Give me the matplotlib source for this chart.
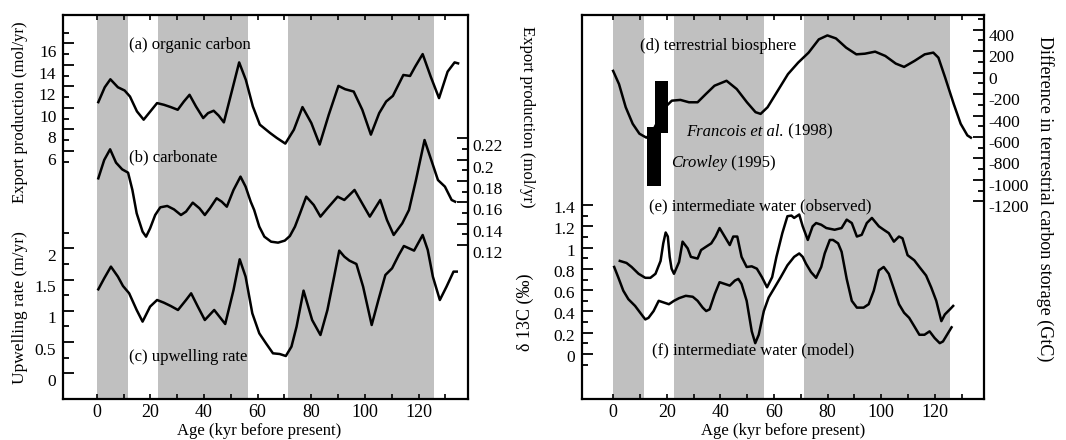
import matplotlib
matplotlib.use("Agg")
import matplotlib.pyplot as plt
from matplotlib.transforms import ScaledTranslation

plt.rcParams["font.family"] = ["Liberation Serif", "DejaVu Serif"]

# ---------------- data ----------------
# shaded intervals (kyr BP)
bands = [(0, 11.6), (22.7, 56.4), (71.2, 125.8)]

# (a) organic carbon export (mol/yr)
org_age = [0.6, 3.0, 5.1, 7.9, 10.4, 12.4, 15.0, 17.5, 20.0, 22.5, 25.1, 27.6, 30.2,
           32.5, 34.6, 37.0, 39.7, 41.5, 43.6, 45.5, 47.4, 50.5, 53.1, 55.6, 58.2,
           60.8, 64.6, 67.1, 70.3, 73.5, 76.7, 80.0, 83.1, 86.5, 90.1, 92.6, 95.8,
           99.0, 102.2, 105.3, 107.9, 110.4, 114.3, 116.8, 118.7, 121.5, 124.5,
           127.6, 130.8, 133.4, 134.7]
org_val = [10.54, 11.92, 12.66, 11.92, 11.62, 11.06, 9.68, 8.91, 9.68, 10.45, 10.29,
           10.08, 9.83, 10.60, 11.22, 10.14, 9.06, 9.52, 9.74, 9.28, 8.66, 11.68, 14.23,
           12.60, 10.14, 8.45, 7.68, 7.22, 6.69, 7.98, 10.08, 8.60, 6.60, 9.37, 12.05,
           11.74, 11.52, 9.83, 7.52, 9.52, 10.60, 11.12, 13.06, 12.97, 13.83, 15.00,
           12.91, 10.91, 13.37, 14.23, 14.14]

# (b) carbonate export (mol/yr)
carb_age = [0.6, 2.8, 5.0, 7.2, 9.5, 11.7, 13.3, 14.9, 16.1, 17.1, 18.4, 19.9, 21.8,
            23.7, 26.3, 28.8, 31.4, 33.3, 35.8, 38.3, 40.3, 42.2, 44.7, 46.6, 48.5,
            51.0, 53.6, 55.5, 57.4, 58.7, 60.6, 62.5, 65.0, 67.6, 70.1, 72.0, 73.9,
            75.8, 78.1, 80.9, 83.4, 86.0, 89.8, 92.3, 96.1, 99.3, 101.8, 105.7, 108.2,
            110.7, 113.9, 116.4, 119.0, 122.2, 124.7, 127.2, 129.8, 132.3, 133.6]
carb_val = [0.1825, 0.1997, 0.2097, 0.1972, 0.1909, 0.1878, 0.1716, 0.1497, 0.1403,
            0.1325, 0.1278, 0.1356, 0.1481, 0.1553, 0.1566, 0.1534, 0.1481, 0.1513,
            0.1597, 0.1544, 0.1481, 0.1544, 0.1638, 0.1606, 0.1559, 0.1716, 0.1841,
            0.1747, 0.1606, 0.1528, 0.1372, 0.1278, 0.1231, 0.1222, 0.1241, 0.1284,
            0.1372, 0.1497, 0.1653, 0.1575, 0.1466, 0.1544, 0.1653, 0.1622, 0.1716,
            0.1575, 0.1466, 0.1622, 0.1434, 0.1294, 0.1403, 0.1528, 0.1809, 0.2184,
            0.1997, 0.1809, 0.1747, 0.1622, 0.1606]

# (c) upwelling rate (m/yr)
upw_age = [0.6, 2.8, 5.3, 7.9, 9.8, 12.1, 14.9, 17.1, 19.9, 22.5, 25.0, 27.6, 30.3,
           33.3, 35.2, 37.7, 40.3, 43.8, 47.9, 51.0, 53.3, 55.5, 58.0, 60.6, 63.1,
           65.7, 68.2, 70.5, 72.6, 74.5, 77.1, 80.3, 83.4, 86.0, 88.5, 90.4, 92.3,
           94.2, 96.8, 99.3, 102.5, 105.0, 107.6, 110.1, 112.6, 114.5, 116.4, 118.3,
           121.5, 123.4, 125.3, 127.9, 130.4, 133.0, 134.2]
upw_val = [1.344, 1.52, 1.707, 1.547, 1.397, 1.28, 1.013, 0.827, 1.067, 1.173, 1.131,
           1.077, 1.013, 1.173, 1.28, 1.067, 0.853, 1.013, 0.789, 1.333, 1.824, 1.547,
           0.96, 0.64, 0.48, 0.32, 0.309, 0.277, 0.427, 0.747, 1.323, 0.853, 0.613,
           1.013, 1.547, 1.963, 1.867, 1.803, 1.749, 1.387, 0.773, 1.173, 1.573, 1.68,
           1.893, 2.037, 2.0, 1.963, 2.213, 1.973, 1.547, 1.173, 1.387, 1.627, 1.627]

# (d) terrestrial carbon storage difference (GtC)
terr_age = [0.0, 2.2, 4.7, 7.3, 9.8, 12.4, 14.3, 16.8, 19.4, 21.9, 25.1, 28.3, 31.5,
            34.6, 37.8, 42.3, 46.1, 49.9, 53.1, 55.0, 57.6, 61.4, 65.2, 69.0, 72.9,
            76.7, 79.9, 83.1, 86.9, 90.7, 93.9, 97.7, 101.5, 105.4, 108.5, 112.4,
            116.2, 119.4, 121.3, 123.8, 127.0, 129.6, 132.1, 133.4]
terr_val = [15, -108, -323, -477, -569, -606, -569, -446, -323, -262, -255, -277, -277,
            -200, -123, -77, -154, -277, -369, -385, -323, -169, -15, 92, 185, 308, 345,
            317, 231, 169, 175, 194, 154, 83, 52, 108, 169, 185, 138, -46, -292, -477,
            -585, -606]

# LGM reconstructions: age span (kyr) and GtC span
recon_names = ["Crowley", "Francois"]
recon_age = [(12.7, 17.8), (15.5, 20.4)]
recon_gtc = [(-1052, -508), (-560, -77)]

# (e) intermediate water d13C, observed
obs_age = [2.5, 5.0, 6.9, 9.5, 12.0, 13.9, 15.8, 17.7, 18.7, 19.6, 20.4, 21.1, 21.8,
           22.7, 24.6, 25.9, 27.8, 29.0, 31.5, 32.8, 34.7, 36.6, 38.2, 39.7, 41.6,
           43.5, 44.8, 46.3, 47.9, 49.8, 51.7, 53.6, 55.5, 57.4, 59.3, 60.9, 63.1,
           65.0, 66.5, 67.5, 69.4, 70.7, 72.6, 74.4, 75.7, 77.6, 79.5, 82.6, 85.2,
           87.1, 89.0, 90.9, 92.7, 94.6, 96.5, 99.1, 100.9, 102.8, 104.7, 106.6,
           107.9, 109.8, 112.3, 114.2, 116.7, 118.6, 120.5, 122.4, 123.7, 125.6, 126.8]
obs_val = [0.875, 0.856, 0.818, 0.754, 0.716, 0.716, 0.754, 0.875, 1.04, 1.142, 1.104,
           0.913, 0.802, 0.754, 0.865, 1.056, 0.993, 0.913, 0.897, 0.977, 1.009, 1.04,
           1.104, 1.184, 1.104, 1.024, 1.104, 1.104, 0.913, 0.818, 0.824, 0.802, 0.722,
           0.627, 0.722, 0.913, 1.136, 1.295, 1.301, 1.279, 1.311, 1.2, 1.072, 1.2,
           1.231, 1.215, 1.184, 1.168, 1.184, 1.263, 1.231, 1.104, 1.12, 1.231, 1.279,
           1.2, 1.168, 1.136, 1.056, 1.104, 1.088, 0.929, 0.881, 0.818, 0.738, 0.627,
           0.5, 0.309, 0.372, 0.42, 0.452]

# (f) intermediate water d13C, model
mod_age = [0.4, 1.9, 3.8, 5.7, 8.2, 10.1, 12.0, 13.2, 15.1, 17.0, 18.9, 20.8, 22.7,
           24.6, 27.1, 29.7, 31.5, 33.4, 34.7, 36.0, 37.9, 39.7, 41.6, 43.5, 45.4,
           46.7, 47.9, 49.8, 51.7, 53.0, 54.3, 56.2, 58.0, 59.9, 62.5, 65.0, 67.5,
           69.4, 70.7, 71.9, 73.8, 75.7, 77.6, 78.9, 80.8, 82.0, 83.9, 85.2, 87.1,
           89.0, 90.9, 93.4, 95.3, 97.2, 99.1, 100.9, 102.8, 104.7, 106.6, 108.5,
           110.4, 112.3, 114.2, 116.1, 118.0, 119.9, 121.8, 123.0, 124.9, 126.2]
mod_val = [0.818, 0.722, 0.595, 0.515, 0.452, 0.388, 0.325, 0.34, 0.404, 0.5, 0.484,
           0.468, 0.5, 0.525, 0.547, 0.538, 0.5, 0.436, 0.404, 0.42, 0.563, 0.675,
           0.659, 0.643, 0.69, 0.706, 0.659, 0.5, 0.213, 0.102, 0.181, 0.404, 0.531,
           0.611, 0.722, 0.834, 0.913, 0.945, 0.913, 0.85, 0.77, 0.716, 0.818, 0.945,
           1.072, 1.072, 1.04, 0.961, 0.706, 0.5, 0.436, 0.436, 0.468, 0.595, 0.786,
           0.818, 0.754, 0.611, 0.468, 0.388, 0.34, 0.261, 0.181, 0.181, 0.213, 0.15,
           0.102, 0.118, 0.197, 0.251]

# axis ticks and labels
age_major = [0, 20, 40, 60, 80, 100, 120]
age_minor = [10, 30, 50, 70, 90, 110, 130]
org_ticks = [6, 8, 10, 12, 14, 16]
org_minor = [5, 7, 9, 11, 13, 15, 17]
org_labels = ["6", "8", "10", "12", "14", "16"]
carb_ticks = [0.12, 0.14, 0.16, 0.18, 0.20, 0.22]
carb_minor = [0.13, 0.15, 0.17, 0.19, 0.21]
carb_labels = ["0.12", "0.14", "0.16", "0.18", "0.2", "0.22"]
upw_ticks = [0, 0.5, 1, 1.5, 2]
upw_minor = [0.25, 0.75, 1.25, 1.75, 2.25]
upw_labels = ["0", "0.5", "1", "1.5", "2"]
terr_ticks = [-1200, -1000, -800, -600, -400, -200, 0, 200, 400]
terr_minor = [-1100, -900, -700, -500, -300, -100, 100, 300, 500]
terr_labels = ["-1200", "-1000", "-800", "-600", "-400", "-200", "0", "200", "400"]
d13_ticks = [0, 0.2, 0.4, 0.6, 0.8, 1.0, 1.2, 1.4]
d13_minor = [-0.1, 0.1, 0.3, 0.5, 0.7, 0.9, 1.1, 1.3]
d13_labels = ["0", "0.2", "0.4", "0.6", "0.8", "1", "1.2", "1.4"]

# ---------------- layout ----------------
W, H = 1066, 440
fig = plt.figure(figsize=(W / 100, H / 100), dpi=100)
TOP, BOT = 15, 398.5


def rect(x0, x1):
    return [x0 / W, 1 - BOT / H, (x1 - x0) / W, (BOT - TOP) / H]


BAND = "#c0c0c0"
LW = 1.8
TICKFS = 12.5
TEXTFS = 12


def frame(r, xlim):
    ax = fig.add_axes(r)
    ax.set_xlim(*xlim)
    ax.set_ylim(0, 1)
    for lo, hi in bands:
        ax.axvspan(lo, hi, color=BAND, lw=0, zorder=0)
    for sp in ax.spines.values():
        sp.set_linewidth(1.6)
    ax.set_yticks([])
    ax.set_xticks(age_major)
    ax.set_xticks(age_minor, minor=True)
    ax.tick_params(axis="x", which="both", direction="in", top=True, bottom=True,
                   length=3.5, width=1.2, labelsize=13, pad=4)
    ax.set_xlabel("Age (kyr before present)", fontsize=12)
    ax.xaxis.label.set_va("center")
    return ax


def scale_axes(base, side, ylim, major, minor, labels, drop_px, pad):
    ax = fig.add_axes(base.get_position())
    ax.set_xlim(base.get_xlim())
    ax.set_ylim(*ylim)
    ax.patch.set_visible(False)
    for sp in ax.spines.values():
        sp.set_visible(False)
    ax.tick_params(axis="x", which="both", bottom=False, top=False,
                   labelbottom=False, labeltop=False)
    if side == "right":
        ax.yaxis.tick_right()
    else:
        ax.yaxis.tick_left()
    ax.set_yticks(major)
    ax.set_yticks(minor, minor=True)
    ax.set_yticklabels(labels)
    ax.tick_params(axis="y", which="major", direction="in", length=8, width=1.3,
                   pad=pad, labelsize=TICKFS)
    ax.tick_params(axis="y", which="minor", direction="in", length=4.5, width=1.3)
    shift = ScaledTranslation(0, -drop_px / 100, fig.dpi_scale_trans)
    for t in ax.get_yticklabels():
        t.set_transform(t.get_transform() + shift)
    return ax


# ---------- left panel: export production and upwelling ----------
axL = frame(rect(63.3, 468), (-12.45, 138.4))
axL.xaxis.set_label_coords(0.483, -0.085)

ax_org = scale_axes(axL, "left", (-16.98, 18.63), org_ticks, org_minor, org_labels, 8, 5)
ax_org.plot(org_age, org_val, color="k", lw=LW, solid_joinstyle="round")

ax_carb = scale_axes(axL, "right", (-0.0239, 0.3356), carb_ticks, carb_minor,
                     carb_labels, 7, 3.5)
ax_carb.plot(carb_age, carb_val, color="k", lw=LW, solid_joinstyle="round")

ax_upw = scale_axes(axL, "left", (-0.403, 5.733), upw_ticks, upw_minor, upw_labels, 6.5, 5)
ax_upw.plot(upw_age, upw_val, color="k", lw=LW, solid_joinstyle="round")

txt = dict(fontsize=TEXTFS, ha="left", va="center", transform=axL.transAxes)
axL.text(0.163, 0.922, "(a) organic carbon", **txt)
axL.text(0.163, 0.630, "(b) carbonate", **txt)
axL.text(0.163, 0.109, "(c) upwelling rate", **txt)

# ---------- right panel: terrestrial biosphere and d13C ----------
axR = frame(rect(582, 984), (-11.6, 138.3))
axR.xaxis.set_label_coords(0.5, -0.085)

ax_terr = scale_axes(axR, "right", (-3032.6, 534.9), terr_ticks, terr_minor,
                     terr_labels, 5, 3)
ax_terr.plot(terr_age, terr_val, color="k", lw=LW, solid_joinstyle="round")
for (a0, a1), (g0, g1) in zip(recon_age, recon_gtc):
    ax_terr.bar((a0 + a1) / 2, g1 - g0, bottom=g0, width=a1 - a0, color="k", lw=0)

ax_d13 = scale_axes(axR, "left", (-0.418, 3.186), d13_ticks, d13_minor, d13_labels, 2, 5)
ax_d13.plot(obs_age, obs_val, color="k", lw=LW, solid_joinstyle="round")
ax_d13.plot(mod_age, mod_val, color="k", lw=LW, solid_joinstyle="round")

txtR = dict(fontsize=TEXTFS, ha="left", va="center", transform=axR.transAxes)
axR.text(0.145, 0.919, "(d) terrestrial biosphere", **txtR)
fr = axR.text(0.259, 0.696, "Francois et al.", style="italic", **txtR)
axR.annotate(" (1998)", xy=(1, 0), xycoords=fr, ha="left", va="bottom", fontsize=TEXTFS)
cr = axR.text(0.221, 0.613, "Crowley", style="italic", **txtR)
axR.annotate(" (1995)", xy=(1, 0), xycoords=cr, ha="left", va="bottom", fontsize=TEXTFS)
axR.text(0.166, 0.502, "(e) intermediate water (observed)", **txtR)
axR.text(0.175, 0.126, "(f) intermediate water (model)", **txtR)

# ---------- axis titles ----------
lab = dict(fontsize=12, ha="center", va="center")
fig.text(20 / W, 1 - 112 / H, "Export production (mol/yr)", rotation=90, **lab)
fig.text(20 / W, 1 - 308 / H, "Upwelling rate (m/yr)", rotation=90, fontsize=12.5,
         ha="center", va="center")
fig.text(527 / W, 1 - 117 / H, "Export production (mol/yr)", rotation=-90, **lab)
fig.text(525 / W, 1 - 312 / H, "δ 13C (‰)", rotation=90, fontsize=13,
         ha="center", va="center")
fig.text(1045 / W, 1 - 199 / H, "Difference in terrestrial carbon storage (GtC)",
         rotation=-90, fontsize=13, ha="center", va="center")

fig.savefig("out.png", dpi=100, facecolor="white")
